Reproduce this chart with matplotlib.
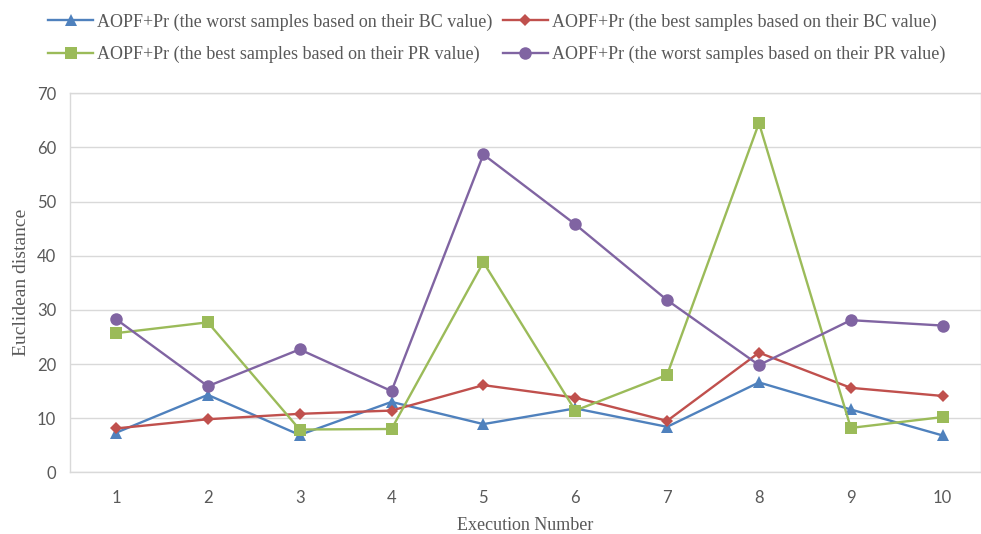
import matplotlib
matplotlib.use("Agg")
import matplotlib.pyplot as plt

executions = [1, 2, 3, 4, 5, 6, 7, 8, 9, 10]

worst_bc = [7.3, 14.3, 6.9, 13.0, 8.9, 11.8, 8.4, 16.6, 11.6, 6.8]
best_bc = [8.1, 9.8, 10.8, 11.4, 16.1, 13.8, 9.5, 22.1, 15.6, 14.1]
best_pr = [25.7, 27.7, 7.9, 8.0, 38.8, 11.4, 18.0, 64.5, 8.2, 10.2]
worst_pr = [28.3, 15.9, 22.7, 15.0, 58.7, 45.8, 31.8, 19.8, 28.1, 27.1]

labels = [
    "AOPF+Pr (the worst samples based on their BC value)",
    "AOPF+Pr (the best samples based on their BC value)",
    "AOPF+Pr (the best samples based on their PR value)",
    "AOPF+Pr (the worst samples based on their PR value)",
]

SERIF = "Liberation Serif"
TICK_FONT = "Lato"
TEXT_GRAY = "#595959"
GRID_GRAY = "#D9D9D9"

fig = plt.figure(figsize=(9.81, 5.34), dpi=100)
ax = fig.add_axes([70 / 981, (534 - 472.3) / 534, (981 - 70) / 981, (472.3 - 93.3) / 534])

styles = [
    (worst_bc, "#4F81BD", "^", 8.5),
    (best_bc, "#C0504D", "D", 6.5),
    (best_pr, "#9BBB59", "s", 8.5),
    (worst_pr, "#8064A2", "o", 9.0),
]
handles = []
for (vals, color, marker, ms), label in zip(styles, labels):
    h, = ax.plot(executions, vals, color=color, linewidth=1.7, marker=marker,
                 markersize=ms, markeredgewidth=0, label=label, zorder=3)
    handles.append(h)

ax.set_xlim(0.5, 10.417)
ax.set_ylim(0, 70)
ax.set_xticks(executions)
ax.set_yticks(range(0, 71, 10))
ax.grid(axis="y", color=GRID_GRAY, linewidth=1)
ax.set_axisbelow(True)
for side in ax.spines.values():
    side.set_color(GRID_GRAY)
    side.set_linewidth(1)
ax.tick_params(length=0, pad=13, labelsize=12, labelcolor=TEXT_GRAY)
ax.tick_params(axis="y", pad=10)
for t in ax.get_xticklabels() + ax.get_yticklabels():
    t.set_fontfamily(TICK_FONT)

ax.set_xlabel("Execution Number", fontfamily=SERIF, fontsize=13,
              color=TEXT_GRAY, labelpad=8)
ax.set_ylabel("Euclidean distance", fontfamily=SERIF, fontsize=14,
              color=TEXT_GRAY, labelpad=5)

# legend: two rows across the top, filled column by column
order = [0, 2, 1, 3]
leg = fig.legend([handles[i] for i in order], [labels[i] for i in order],
                 ncol=2, loc="upper left", bbox_to_anchor=(32 / 981, 1 + 3 / 534),
                 frameon=False, handlelength=2.5, handletextpad=0.22,
                 columnspacing=0.55, labelspacing=0.85,
                 prop={"family": SERIF, "size": 13})
for t in leg.get_texts():
    t.set_color(TEXT_GRAY)

fig.savefig("out.png", dpi=100)
